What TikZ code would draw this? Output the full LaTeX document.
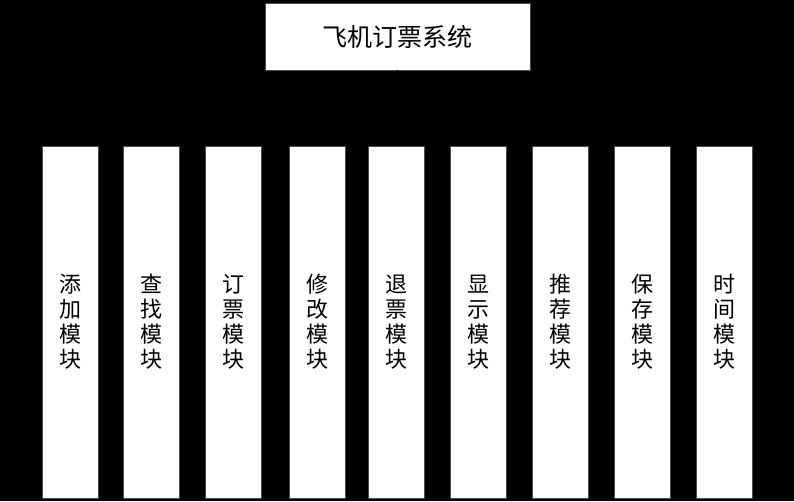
\documentclass[tikz,border=0pt]{standalone}
\usepackage{fontspec}
\newfontfamily\cjk{Noto Sans CJK SC}
\begin{document}
\begin{tikzpicture}[x=1pt,y=-1pt,
  topbox/.style={draw=black!70,line width=0.6pt,fill=white,minimum width=265pt,minimum height=67pt,inner sep=0pt,font=\cjk\fontsize{25}{27}\selectfont},
  modbox/.style={draw=black!70,line width=0.6pt,fill=white,minimum width=56pt,minimum height=352pt,inner sep=0pt,align=center,font=\cjk\fontsize{22}{25}\selectfont},
  conn/.style={draw=black,line width=0.8pt}]
\fill[black] (0,0) rectangle (794,501);
\useasboundingbox (0,0) rectangle (794,501);
\node[topbox] (top) at (397.5,36.5) {飞机订票系统};
\node[modbox] (m1) at (70,322) {添\\加\\模\\块};
\node[modbox] (m2) at (151.5,322) {查\\找\\模\\块};
\node[modbox] (m3) at (233.5,322) {订\\票\\模\\块};
\node[modbox] (m4) at (317,322) {修\\改\\模\\块};
\node[modbox] (m5) at (396.5,322) {退\\票\\模\\块};
\node[modbox] (m6) at (478.5,322) {显\\示\\模\\块};
\node[modbox] (m7) at (560.5,322) {推\\荐\\模\\块};
\node[modbox] (m8) at (642,322) {保\\存\\模\\块};
\node[modbox] (m9) at (724,322) {时\\间\\模\\块};
\coordinate (bus) at (397.5,108);
\foreach \i in {1,...,9} {
  \draw[conn] (top.south) -- (bus) -| (m\i.north);
}
\end{tikzpicture}
\end{document}
